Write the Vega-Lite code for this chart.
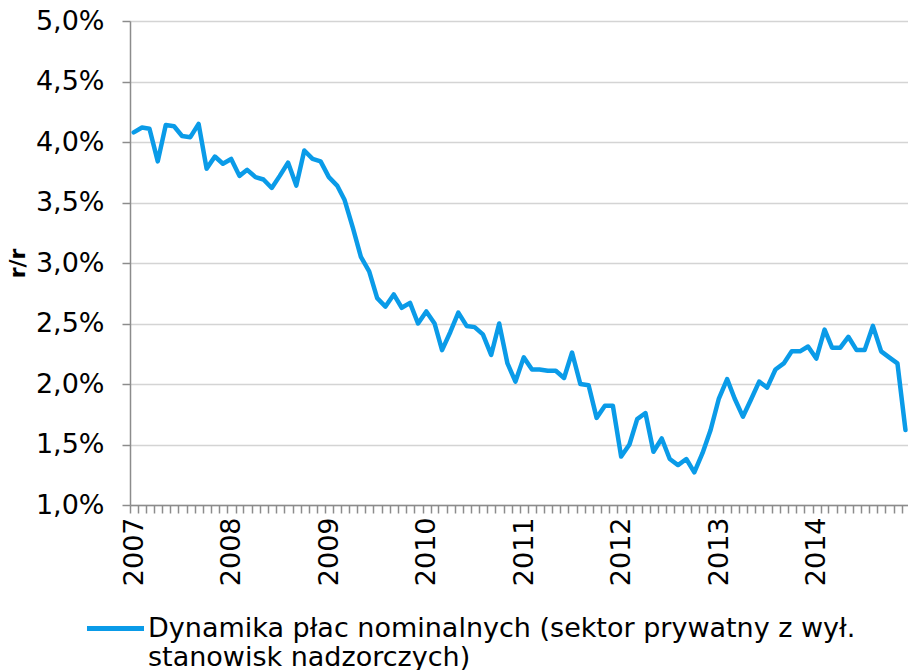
{
  "$schema": "https://vega.github.io/schema/vega-lite/v6.json",
  "autosize": "none",
  "padding": {"left": 130, "top": 21, "right": 0, "bottom": 165},
  "width": 780,
  "height": 484,
  "background": "white",
  "config": {
    "font": "DejaVu Sans",
    "view": {"stroke": null}
  },
  "data": {
    "values": [
      {"date": "2007-01-15", "value": 4.08}, {"date": "2007-02-15", "value": 4.12}, {"date": "2007-03-15", "value": 4.11}, {"date": "2007-04-15", "value": 3.84},
      {"date": "2007-05-15", "value": 4.14}, {"date": "2007-06-15", "value": 4.13}, {"date": "2007-07-15", "value": 4.05}, {"date": "2007-08-15", "value": 4.04},
      {"date": "2007-09-15", "value": 4.15}, {"date": "2007-10-15", "value": 3.78}, {"date": "2007-11-15", "value": 3.88}, {"date": "2007-12-15", "value": 3.82},
      {"date": "2008-01-15", "value": 3.86}, {"date": "2008-02-15", "value": 3.72}, {"date": "2008-03-15", "value": 3.77}, {"date": "2008-04-15", "value": 3.71},
      {"date": "2008-05-15", "value": 3.69}, {"date": "2008-06-15", "value": 3.62}, {"date": "2008-07-15", "value": 3.72}, {"date": "2008-08-15", "value": 3.83},
      {"date": "2008-09-15", "value": 3.64}, {"date": "2008-10-15", "value": 3.93}, {"date": "2008-11-15", "value": 3.86}, {"date": "2008-12-15", "value": 3.84},
      {"date": "2009-01-15", "value": 3.71}, {"date": "2009-02-15", "value": 3.64}, {"date": "2009-03-15", "value": 3.52}, {"date": "2009-04-15", "value": 3.29},
      {"date": "2009-05-15", "value": 3.05}, {"date": "2009-06-15", "value": 2.93}, {"date": "2009-07-15", "value": 2.71}, {"date": "2009-08-15", "value": 2.64},
      {"date": "2009-09-15", "value": 2.74}, {"date": "2009-10-15", "value": 2.63}, {"date": "2009-11-15", "value": 2.67}, {"date": "2009-12-15", "value": 2.50},
      {"date": "2010-01-15", "value": 2.60}, {"date": "2010-02-15", "value": 2.50}, {"date": "2010-03-15", "value": 2.28}, {"date": "2010-04-15", "value": 2.43},
      {"date": "2010-05-15", "value": 2.59}, {"date": "2010-06-15", "value": 2.48}, {"date": "2010-07-15", "value": 2.47}, {"date": "2010-08-15", "value": 2.41},
      {"date": "2010-09-15", "value": 2.24}, {"date": "2010-10-15", "value": 2.50}, {"date": "2010-11-15", "value": 2.17}, {"date": "2010-12-15", "value": 2.02},
      {"date": "2011-01-15", "value": 2.22}, {"date": "2011-02-15", "value": 2.12}, {"date": "2011-03-15", "value": 2.12}, {"date": "2011-04-15", "value": 2.11},
      {"date": "2011-05-15", "value": 2.11}, {"date": "2011-06-15", "value": 2.05}, {"date": "2011-07-15", "value": 2.26}, {"date": "2011-08-15", "value": 2.00},
      {"date": "2011-09-15", "value": 1.99}, {"date": "2011-10-15", "value": 1.72}, {"date": "2011-11-15", "value": 1.82}, {"date": "2011-12-15", "value": 1.82},
      {"date": "2012-01-15", "value": 1.40}, {"date": "2012-02-15", "value": 1.50}, {"date": "2012-03-15", "value": 1.71}, {"date": "2012-04-15", "value": 1.76},
      {"date": "2012-05-15", "value": 1.44}, {"date": "2012-06-15", "value": 1.55}, {"date": "2012-07-15", "value": 1.38}, {"date": "2012-08-15", "value": 1.33},
      {"date": "2012-09-15", "value": 1.38}, {"date": "2012-10-15", "value": 1.27}, {"date": "2012-11-15", "value": 1.43}, {"date": "2012-12-15", "value": 1.62},
      {"date": "2013-01-15", "value": 1.88}, {"date": "2013-02-15", "value": 2.04}, {"date": "2013-03-15", "value": 1.88}, {"date": "2013-04-15", "value": 1.73},
      {"date": "2013-05-15", "value": 1.87}, {"date": "2013-06-15", "value": 2.02}, {"date": "2013-07-15", "value": 1.97}, {"date": "2013-08-15", "value": 2.12},
      {"date": "2013-09-15", "value": 2.17}, {"date": "2013-10-15", "value": 2.27}, {"date": "2013-11-15", "value": 2.27}, {"date": "2013-12-15", "value": 2.31},
      {"date": "2014-01-15", "value": 2.21}, {"date": "2014-02-15", "value": 2.45}, {"date": "2014-03-15", "value": 2.30}, {"date": "2014-04-15", "value": 2.30},
      {"date": "2014-05-15", "value": 2.39}, {"date": "2014-06-15", "value": 2.28}, {"date": "2014-07-15", "value": 2.28}, {"date": "2014-08-15", "value": 2.48},
      {"date": "2014-09-15", "value": 2.27}, {"date": "2014-10-15", "value": 2.22}, {"date": "2014-11-15", "value": 2.17}, {"date": "2014-12-15", "value": 1.62}
    ]
  },
  "mark": {"type": "line", "strokeWidth": 4.5, "strokeJoin": "round", "strokeCap": "round"},
  "encoding": {
    "x": {
      "field": "date",
      "type": "temporal",
      "scale": {
        "type": "utc",
        "domain": [
          {"year": 2007, "month": 1, "date": 1, "utc": true},
          {"year": 2015, "month": 1, "date": 1, "utc": true}
        ],
        "nice": false
      },
      "axis": {
        "title": null,
        "tickCount": {"interval": "month", "step": 1},
        "labelExpr": "utcmonth(datum.value) === 0 && utcyear(datum.value) < 2015 ? utcFormat(datum.value, '%Y') : ''",
        "labelAngle": 270,
        "labelFontSize": 27,
        "labelColor": "#000000",
        "labelOverlap": false,
        "labelFlush": false,
        "labelBound": false,
        "labelOffset": 4,
        "labelPadding": 4,
        "tickSize": 8,
        "tickColor": "#8c8c8c",
        "tickWidth": 1.5,
        "domainColor": "#8c8c8c",
        "domainWidth": 1.5,
        "grid": false
      }
    },
    "y": {
      "field": "value",
      "type": "quantitative",
      "scale": {"domain": [1, 5], "nice": false, "zero": false},
      "axis": {
        "title": "r/r",
        "titleFontSize": 22,
        "titleFontWeight": "bold",
        "titleColor": "#000000",
        "titlePadding": 6,
        "values": [1, 1.5, 2, 2.5, 3, 3.5, 4, 4.5, 5],
        "labelExpr": "replace(format(datum.value, '.1f'), '.', ',') + '%'",
        "labelFontSize": 27,
        "labelColor": "#000000",
        "labelPadding": 18,
        "tickSize": 8,
        "tickColor": "#8c8c8c",
        "tickWidth": 1.5,
        "domainColor": "#8c8c8c",
        "domainWidth": 1.5,
        "grid": true,
        "gridColor": "#d4d4d4",
        "gridWidth": 1.5
      }
    },
    "color": {
      "datum": "Dynamika płac nominalnych (sektor prywatny z wył. stanowisk nadzorczych)",
      "scale": {"range": ["#0a9be8"]},
      "legend": {
        "title": null,
        "orient": "none",
        "legendX": -46,
        "legendY": 576,
        "symbolType": "stroke",
        "symbolSize": 3250,
        "symbolStrokeWidth": 5,
        "labelFontSize": 27,
        "labelColor": "#000000",
        "labelLimit": 0,
        "labelOffset": 1,
        "labelLineHeight": 29,
        "labelExpr": "['Dynamika płac nominalnych (sektor prywatny z wył.', 'stanowisk nadzorczych)']"
      }
    }
  }
}
